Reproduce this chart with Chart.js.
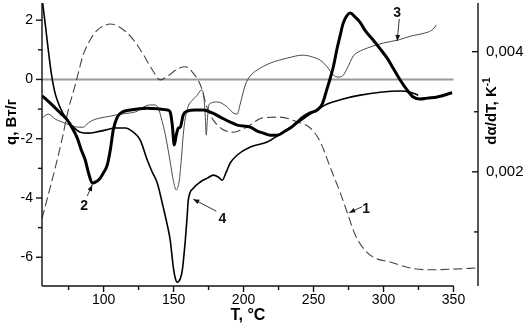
<!DOCTYPE html>
<html>
<head>
<meta charset="utf-8">
<script src="https://cdn.jsdelivr.net/npm/chart.js@4.4.1/dist/chart.umd.min.js"></script>
<style>
html,body{margin:0;padding:0;background:#fff;}
#wrap{width:531px;height:327px;position:relative;}
</style>
</head>
<body>
<div id="wrap"><canvas id="c" width="531" height="327"></canvas></div>
<script>
// Curve 1: dα/dT, K^-1 (right axis), dashed
const curve1T = [56.0, 60.5, 65.5, 70.5, 74.8, 79.8, 85.5, 90.5, 95.5, 101.2, 104.8, 109.8, 116.9, 122.6, 128.4, 134.8, 140.5, 146.2, 152.6, 158.4, 163.4, 169.1, 174.1, 178.4, 184.8, 192.6, 201.2, 214.1, 226.2, 238.4, 247.6, 254.8, 262.0, 269.1, 274.1, 279.8, 285.5, 292.6, 304.8, 319.1, 333.4, 349.8, 366.9];
const curve1Rate = [0.00122, 0.00162, 0.00207, 0.00256, 0.00303, 0.00345, 0.00395, 0.00420, 0.00436, 0.00444, 0.00446, 0.00443, 0.00431, 0.00416, 0.00395, 0.00370, 0.00353, 0.00360, 0.00371, 0.00375, 0.00366, 0.00345, 0.00306, 0.00286, 0.00271, 0.00266, 0.00273, 0.00290, 0.00291, 0.00283, 0.00273, 0.00250, 0.00207, 0.00165, 0.00132, 0.00095, 0.00073, 0.00058, 0.00050, 0.00040, 0.00037, 0.00038, 0.00040];

// Curve 2: heat flow q, W/g (thick)
const curve2T = [56.0, 61.9, 69.1, 74.1, 77.6, 81.2, 84.1, 86.9, 89.1, 91.9, 95.5, 97.6, 99.8, 102.6, 104.8, 106.9, 109.8, 113.4, 119.1, 131.2, 140.5, 145.5, 147.6, 149.1, 150.5, 151.9, 153.4, 154.8, 156.9, 159.8, 165.5, 171.2, 177.6, 183.4, 190.5, 195.5, 204.8, 209.8, 214.1, 219.1, 224.1, 229.8, 233.4, 238.4, 242.6, 247.6, 252.6, 256.2, 259.8, 262.0, 264.1, 266.9, 269.1, 271.2, 274.1, 276.2, 279.8, 283.4, 286.9, 292.6, 297.6, 302.6, 306.9, 311.9, 316.9, 321.2, 326.2, 331.2, 338.4, 349.0];
const curve2Q = [-0.55, -0.80, -1.13, -1.37, -1.64, -1.98, -2.38, -2.72, -3.13, -3.50, -3.43, -3.33, -3.16, -2.89, -2.38, -1.71, -1.27, -1.10, -1.03, -0.97, -1.00, -1.03, -1.10, -1.54, -2.21, -1.88, -1.64, -1.61, -1.20, -1.07, -1.03, -1.03, -1.13, -1.27, -1.44, -1.54, -1.61, -1.74, -1.81, -1.88, -1.88, -1.74, -1.64, -1.44, -1.27, -1.13, -1.03, -0.83, -0.29, 0.05, 0.42, 1.06, 1.50, 1.90, 2.17, 2.24, 2.10, 1.92, 1.65, 1.33, 1.03, 0.72, 0.38, -0.02, -0.36, -0.59, -0.66, -0.63, -0.59, -0.45];

// Curve 3: heat flow q, W/g (thin grey)
const curve3T = [56.0, 60.5, 65.5, 70.5, 76.2, 81.9, 85.5, 89.1, 92.6, 97.6, 104.8, 111.9, 119.1, 124.1, 128.4, 133.4, 136.9, 139.1, 141.2, 143.4, 145.5, 147.6, 149.8, 151.9, 154.1, 155.5, 156.9, 158.4, 160.5, 163.4, 166.9, 169.8, 171.2, 172.6, 173.4, 174.1, 175.5, 181.2, 188.4, 192.6, 195.5, 197.6, 201.2, 204.8, 209.8, 219.1, 231.2, 242.6, 249.8, 254.8, 259.8, 264.1, 267.6, 270.5, 274.1, 278.4, 283.4, 288.4, 299.8, 310.5, 319.1, 326.2, 331.9, 335.5, 337.7];
const curve3Q = [-1.30, -1.17, -1.34, -1.44, -1.54, -1.61, -1.61, -1.47, -1.37, -1.30, -1.24, -1.17, -1.13, -1.07, -0.93, -0.86, -0.86, -0.97, -1.30, -1.71, -2.21, -2.79, -3.40, -3.73, -3.40, -2.72, -1.88, -1.30, -0.90, -0.70, -0.53, -0.36, -0.43, -1.20, -1.88, -1.37, -0.83, -0.76, -0.93, -1.13, -1.17, -0.83, -0.19, 0.12, 0.32, 0.55, 0.72, 0.82, 0.75, 0.65, 0.42, 0.15, 0.08, 0.11, 0.38, 0.79, 0.96, 1.06, 1.23, 1.33, 1.46, 1.53, 1.60, 1.70, 1.84];

// Curve 4: heat flow q, W/g (medium)
const curve4T = [56.0, 58.4, 60.5, 62.6, 64.8, 66.9, 70.5, 74.1, 78.4, 83.4, 89.1, 94.1, 101.2, 108.4, 115.5, 121.2, 126.2, 131.2, 134.8, 138.4, 142.6, 145.5, 147.6, 149.8, 151.2, 152.6, 154.8, 156.2, 158.4, 159.8, 160.5, 164.1, 169.1, 174.1, 178.4, 181.9, 184.8, 187.6, 190.5, 195.5, 204.8, 216.9, 226.2, 238.4, 247.6, 259.8, 271.2, 283.4, 297.6, 311.9, 319.1, 324.8];
const curve4Q = [2.75, 1.84, 0.99, 0.22, -0.36, -0.70, -1.10, -1.37, -1.61, -1.78, -1.81, -1.78, -1.71, -1.64, -1.64, -1.78, -2.05, -2.72, -3.13, -3.50, -4.31, -4.91, -5.42, -6.33, -6.70, -6.84, -6.72, -6.45, -5.42, -4.55, -4.07, -3.67, -3.46, -3.33, -3.23, -3.29, -3.40, -3.13, -2.82, -2.55, -2.28, -2.11, -1.84, -1.47, -1.17, -0.83, -0.66, -0.53, -0.43, -0.39, -0.43, -0.53];

// Axis ticks
const xTicks = [100, 150, 200, 250, 300, 350];
const xMinorTicks = [75, 125, 175, 225, 275, 325];
const qTicks = [-6, -4, -2, 0, 2];
const qMinorTicks = [-5, -3, -1, 1];
const rateTicks = [0.002, 0.004];
const rateMinorTicks = [0.001, 0.003];

// Axis ranges
const X_MIN = 56, X_MAX = 367.5, X_AXIS_END = 350;
const Q_MIN = -6.97, Q_MAX = 2.58;
const R_MIN = 0.0001, R_MAX = 0.00481;

const FONT = '"Liberation Sans", Arial, Helvetica, sans-serif';

const pts = (xs, ys) => xs.map((x, i) => ({ x, y: ys[i] }));

// Curve labels with leader arrows: tip sits on the curve (data coords),
// label and arrow tail are offset in pixels from the tip.
const curveNotes = [
  { text: '1', axis: 'y2', t: 275.5, v: 0.00132, label: [17, -4], tail: [13, -6] },
  { text: '2', axis: 'y', t: 91.9, v: -3.56, label: [-8, 21], tail: [-5, 11] },
  { text: '3', axis: 'y', t: 309.8, v: 1.30, label: [0, -28], tail: [2, -22] },
  { text: '4', axis: 'y', t: 164.1, v: -4.04, label: [29, 20], tail: [23, 12] }
];

const decorations = {
  id: 'decorations',
  afterDatasetsDraw(chart) {
    const { ctx, chartArea: a, scales } = chart;
    const { x, y, y2 } = scales;
    ctx.save();
    ctx.strokeStyle = '#111';
    ctx.fillStyle = '#111';
    ctx.lineWidth = 1.4;
    const seg = (x1, y1, x2, y2p) => { ctx.beginPath(); ctx.moveTo(x1, y1); ctx.lineTo(x2, y2p); ctx.stroke(); };

    // bottom axis
    const xEnd = x.getPixelForValue(X_AXIS_END);
    seg(a.left, a.bottom, xEnd, a.bottom);
    xTicks.forEach(v => { const p = x.getPixelForValue(v); seg(p, a.bottom, p, a.bottom + 6); });
    xMinorTicks.forEach(v => { const p = x.getPixelForValue(v); seg(p, a.bottom, p, a.bottom + 4); });

    // left axis
    seg(a.left, a.top, a.left, a.bottom);
    qTicks.forEach(v => { const p = y.getPixelForValue(v); seg(a.left - 6, p, a.left, p); });
    qMinorTicks.forEach(v => { const p = y.getPixelForValue(v); seg(a.left - 4, p, a.left, p); });

    // right axis (ticks point inward)
    seg(a.right, a.top, a.right, a.bottom);
    rateTicks.forEach(v => { const p = y2.getPixelForValue(v); seg(a.right - 6, p, a.right, p); });
    rateMinorTicks.forEach(v => { const p = y2.getPixelForValue(v); seg(a.right - 4, p, a.right, p); });

    // axis titles
    ctx.fillStyle = '#000';
    ctx.textBaseline = 'middle';
    ctx.textAlign = 'center';
    ctx.font = 'bold 16px ' + FONT;
    ctx.fillText('T, °C', 248, 316);

    ctx.save();
    ctx.translate(12, 122);
    ctx.rotate(-Math.PI / 2);
    ctx.font = 'bold 15px ' + FONT;
    ctx.fillText('q, Вт/г', 0, 0);
    ctx.restore();

    ctx.save();
    ctx.translate(492, 111);
    ctx.rotate(-Math.PI / 2);
    ctx.textAlign = 'left';
    ctx.font = 'bold 15px ' + FONT;
    const main = 'dα/dT, K';
    const wMain = ctx.measureText(main).width;
    ctx.font = 'bold 10px ' + FONT;
    const sup = '-1';
    const wSup = ctx.measureText(sup).width;
    const x0 = -(wMain + wSup) / 2;
    ctx.font = 'bold 15px ' + FONT;
    ctx.fillText(main, x0, 0);
    ctx.font = 'bold 10px ' + FONT;
    ctx.fillText(sup, x0 + wMain, -5);
    ctx.restore();

    // curve labels and arrows
    ctx.lineWidth = 1;
    ctx.strokeStyle = '#333';
    ctx.fillStyle = '#111';
    curveNotes.forEach(n => {
      const sc = scales[n.axis];
      const tx = x.getPixelForValue(n.t), ty = sc.getPixelForValue(n.v);
      const sx = tx + n.tail[0], sy = ty + n.tail[1];
      seg(sx, sy, tx, ty);
      const ang = Math.atan2(ty - sy, tx - sx);
      const L = 6, W = 2.4;
      ctx.beginPath();
      ctx.moveTo(tx, ty);
      ctx.lineTo(tx - L * Math.cos(ang) + W * Math.sin(ang), ty - L * Math.sin(ang) - W * Math.cos(ang));
      ctx.lineTo(tx - L * Math.cos(ang) - W * Math.sin(ang), ty - L * Math.sin(ang) + W * Math.cos(ang));
      ctx.closePath();
      ctx.fill();
      ctx.font = 'bold 14px ' + FONT;
      ctx.textAlign = 'center';
      ctx.textBaseline = 'middle';
      ctx.fillText(n.text, tx + n.label[0], ty + n.label[1]);
    });
    ctx.restore();
  }
};

const tickFont = { family: FONT, size: 14 };
const noPad = s => { s.paddingTop = 0; s.paddingBottom = 0; s.paddingLeft = 0; s.paddingRight = 0; };

new Chart(document.getElementById('c'), {
  type: 'line',
  data: {
    datasets: [
      { data: pts(curve2T, curve2Q), yAxisID: 'y', borderColor: '#000', borderWidth: 3 },
      { data: pts(curve4T, curve4Q), yAxisID: 'y', borderColor: '#000', borderWidth: 1.6 },
      { data: pts(curve3T, curve3Q), yAxisID: 'y', borderColor: '#4a4a4a', borderWidth: 1 },
      { data: pts(curve1T, curve1Rate), yAxisID: 'y2', borderColor: '#444', borderWidth: 1.1, borderDash: [9, 4] },
      { data: [{ x: X_MIN, y: 0 }, { x: X_AXIS_END, y: 0 }], yAxisID: 'y', borderColor: '#9a9a9a', borderWidth: 2 }
    ]
  },
  options: {
    responsive: false,
    animation: false,
    devicePixelRatio: 1,
    layout: { padding: { top: 3, left: 0, right: 0, bottom: 0 } },
    elements: {
      point: { radius: 0 },
      line: { cubicInterpolationMode: 'monotone', fill: false }
    },
    plugins: { legend: { display: false }, tooltip: { enabled: false } },
    scales: {
      x: {
        type: 'linear', min: X_MIN, max: X_MAX,
        grid: { display: false, drawTicks: false },
        border: { display: false },
        ticks: { font: tickFont, color: '#000', padding: 6, autoSkip: false, maxRotation: 0 },
        afterBuildTicks: s => { s.ticks = xTicks.map(v => ({ value: v })); },
        afterFit: s => { s.height = 41; noPad(s); }
      },
      y: {
        position: 'left', min: Q_MIN, max: Q_MAX,
        grid: { display: false, drawTicks: false },
        border: { display: false },
        ticks: { font: tickFont, color: '#000', padding: 9 },
        afterBuildTicks: s => { s.ticks = qTicks.map(v => ({ value: v })); },
        afterFit: s => { s.width = 42; noPad(s); }
      },
      y2: {
        position: 'right', min: R_MIN, max: R_MAX,
        grid: { display: false, drawTicks: false },
        border: { display: false },
        ticks: { font: { family: FONT, size: 15 }, color: '#000', padding: 8,
                 callback: v => v.toFixed(3).replace('.', ',') },
        afterBuildTicks: s => { s.ticks = rateTicks.map(v => ({ value: v })); },
        afterFit: s => { s.width = 53; noPad(s); }
      }
    }
  },
  plugins: [decorations]
});
</script>
</body>
</html>
